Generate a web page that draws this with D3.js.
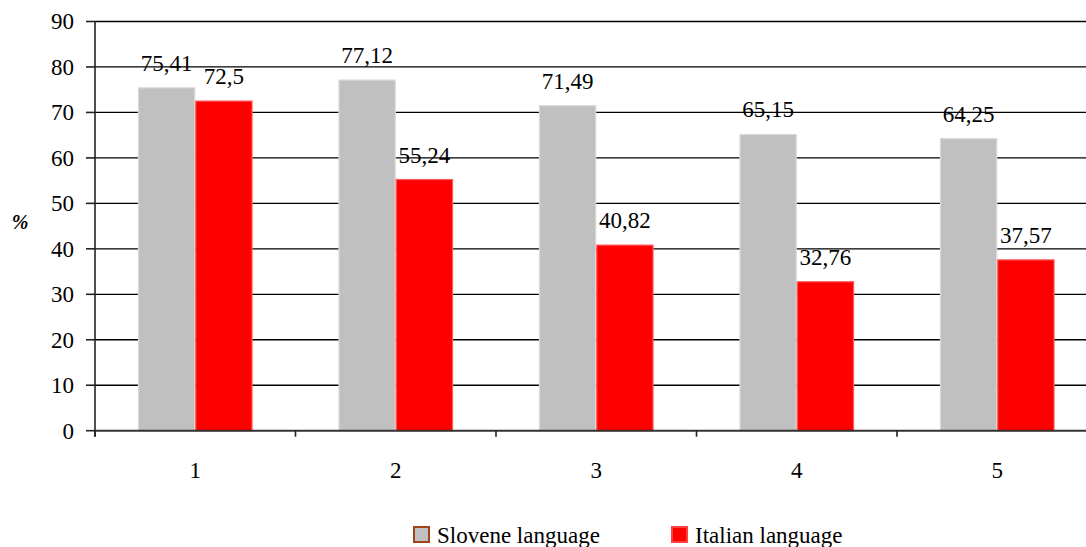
<!DOCTYPE html>
<html>
<head>
<meta charset="utf-8">
<script src="https://cdn.jsdelivr.net/npm/d3@7"></script>
<style>
  body { margin: 0; background: #fff; }
  svg { display: block; }
</style>
</head>
<body>
<div id="chart"></div>
<script>
const categories = ['1', '2', '3', '4', '5']
const seriesNames = ['Slovene language', 'Italian language']
const slovene = [75.41, 77.12, 71.49, 65.15, 64.25]
const italian = [72.5, 55.24, 40.82, 32.76, 37.57]
const yTicks = [0, 10, 20, 30, 40, 50, 60, 70, 80, 90]

const colors = { 'Slovene language': '#c0c0c0', 'Italian language': '#ff0000' }
const borders = { 'Slovene language': '#dadada', 'Italian language': '#ff5a5a' }
const legendBorders = { 'Slovene language': '#a0441a', 'Italian language': '#ff4040' }

let width = 1086
let height = 547
let fontSize = 23
let fontFamily = "'Liberation Serif', 'Times New Roman', Tinos, 'DejaVu Serif', serif"

let svg = d3.select('#chart').append('svg')
  .attr('width', width)
  .attr('height', height)
  .attr('font-family', fontFamily)

let plotLeft = 95, plotRight = 1097.5, plotTop = 21.5, plotBottom = 430.7

let x = d3.scaleBand().domain(categories).range([plotLeft, plotRight]).padding(0)
let x1 = d3.scaleBand().domain(seriesNames).range([0, x.bandwidth()])
  .paddingInner(0).paddingOuter(0.75)
let y = d3.scaleLinear().domain([0, 90]).range([plotBottom, plotTop])

let rows = categories.map((c, i) => ({ cat: c, values: [
  { name: seriesNames[0], value: slovene[i] },
  { name: seriesNames[1], value: italian[i] }
]}))

// gridlines
svg.append('g')
  .selectAll('line')
  .data(yTicks.filter(t => t > 0))
  .enter()
  .append('line')
  .attr('x1', plotLeft)
  .attr('x2', plotRight)
  .attr('y1', d => y(d))
  .attr('y2', d => y(d))
  .attr('stroke', '#000')
  .attr('stroke-width', 1.3)

// bars
let groups = svg.append('g')
  .selectAll('g')
  .data(rows)
  .enter()
  .append('g')
  .attr('transform', d => 'translate(' + x(d.cat) + ',0)')

groups.selectAll('rect')
  .data(d => d.values)
  .enter()
  .append('rect')
  .attr('x', d => x1(d.name) + 0.5)
  .attr('width', x1.bandwidth() - 1)
  .attr('y', d => y(d.value))
  .attr('height', d => y(0) - y(d.value))
  .attr('fill', d => colors[d.name])
  .attr('stroke', d => borders[d.name])
  .attr('stroke-width', 1.2)

groups.selectAll('text')
  .data(d => d.values)
  .enter()
  .append('text')
  .attr('x', d => x1(d.name) + x1.bandwidth() / 2)
  .attr('y', d => y(d.value) - 17)
  .attr('text-anchor', 'middle')
  .style('font-family', fontFamily)
  .style('font-size', fontSize + 'px')
  .text(d => String(d.value).replace('.', ','))

// y axis
let yAxis = svg.append('g')
yAxis.append('line')
  .attr('x1', plotLeft).attr('x2', plotLeft)
  .attr('y1', plotTop).attr('y2', plotBottom + 6)
  .attr('stroke', '#222').attr('stroke-width', 1.6)

yAxis.selectAll('.tick')
  .data(yTicks)
  .enter()
  .append('line')
  .attr('x1', plotLeft - 9).attr('x2', plotLeft)
  .attr('y1', d => y(d)).attr('y2', d => y(d))
  .attr('stroke', '#222').attr('stroke-width', 1.6)

yAxis.selectAll('text')
  .data(yTicks)
  .enter()
  .append('text')
  .attr('x', 74)
  .attr('y', d => y(d))
  .attr('dy', '0.34em')
  .attr('text-anchor', 'end')
  .style('font-family', fontFamily)
  .style('font-size', fontSize + 'px')
  .text(d => d)

svg.append('text')
  .attr('x', 20)
  .attr('y', 222)
  .attr('dy', '0.34em')
  .attr('text-anchor', 'middle')
  .style('font-family', fontFamily)
  .style('font-size', '20px')
  .style('font-weight', 'bold')
  .style('font-style', 'italic')
  .text('%')

// x axis
let xAxis = svg.append('g')
xAxis.append('line')
  .attr('x1', plotLeft).attr('x2', plotRight)
  .attr('y1', y(0)).attr('y2', y(0))
  .attr('stroke', '#333').attr('stroke-width', 2)

xAxis.selectAll('.tick')
  .data(categories.concat(['end']))
  .enter()
  .append('line')
  .attr('x1', d => d === 'end' ? plotRight : x(d))
  .attr('x2', d => d === 'end' ? plotRight : x(d))
  .attr('y1', y(0)).attr('y2', y(0) + 6)
  .attr('stroke', '#222').attr('stroke-width', 1.6)

xAxis.selectAll('text')
  .data(categories)
  .enter()
  .append('text')
  .attr('x', d => x(d) + x.bandwidth() / 2)
  .attr('y', 478)
  .attr('text-anchor', 'middle')
  .style('font-family', fontFamily)
  .style('font-size', fontSize + 'px')
  .text(d => d)

// legend
let legendX = [413, 671]
let legend = svg.append('g')
  .selectAll('g')
  .data(seriesNames)
  .enter()
  .append('g')
  .attr('transform', (d, i) => 'translate(' + legendX[i] + ',526)')

legend.append('rect')
  .attr('x', 1).attr('y', 1)
  .attr('width', 15).attr('height', 15)
  .attr('fill', d => colors[d])
  .attr('stroke', d => legendBorders[d])
  .attr('stroke-width', 2)

legend.append('text')
  .attr('x', 24)
  .attr('y', 17)
  .style('font-family', fontFamily)
  .style('font-size', fontSize + 'px')
  .text(d => d)
</script>
</body>
</html>
